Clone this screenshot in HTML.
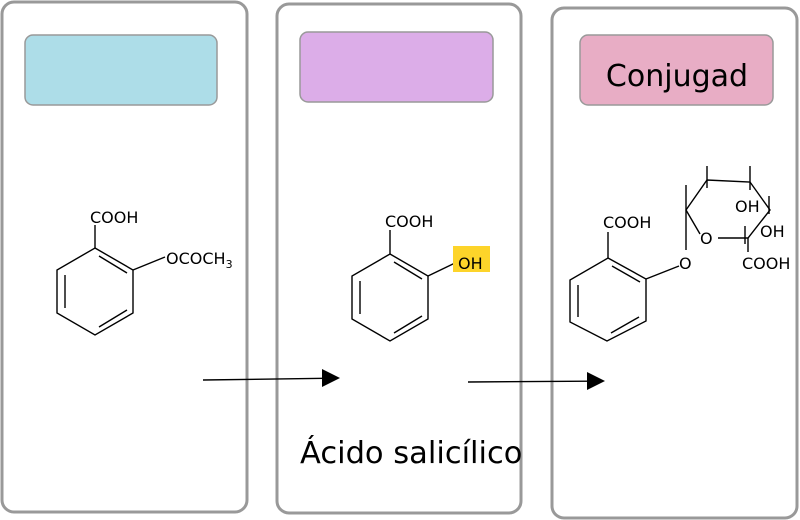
<!DOCTYPE html>
<html><head><style>body{margin:0;background:#fff}svg{display:block}</style></head><body>
<svg width="800" height="520" viewBox="0 0 800 520" xmlns="http://www.w3.org/2000/svg" font-family="DejaVu Sans, Liberation Sans, sans-serif">
<g fill="#fff" stroke="#999" stroke-width="3">
<rect x="2" y="2" width="245" height="510" rx="12"/>
<rect x="277" y="4" width="244" height="509" rx="12"/>
<rect x="552" y="8" width="245" height="510" rx="12"/>
</g>
<g stroke="#999" stroke-width="1.5">
<rect x="25" y="35" width="192" height="70" rx="8" fill="#ADDDE8"/>
<rect x="300" y="32" width="193" height="70" rx="8" fill="#DCADE8"/>
<rect x="580" y="35" width="193" height="70" rx="8" fill="#E8ADC5"/>
</g>
<text x="677" y="86" font-size="30" text-anchor="middle">Conjugad</text>
<g stroke="#000" stroke-width="1.4" fill="none">
<polygon points="95,248 133,270 133,313 95,335 57,313 57,270"/>
<line x1="65" y1="275" x2="65" y2="308"/><line x1="99" y1="256" x2="127" y2="273"/><line x1="99" y1="327" x2="127" y2="310"/>
<line x1="95" y1="248" x2="95" y2="225"/><line x1="133" y1="270" x2="165" y2="257"/>
<polygon points="390,254 428,276 428,319 390,341 352,319 352,276"/>
<line x1="360" y1="281" x2="360" y2="314"/><line x1="394" y1="262" x2="422" y2="279"/><line x1="394" y1="333" x2="422" y2="316"/>
<line x1="390" y1="254" x2="390" y2="230"/><line x1="428" y1="276" x2="455" y2="263"/>
<polygon points="608,258 646,279 646,321 607,341 570,322 570,280"/>
<line x1="578" y1="285" x2="578" y2="317"/><line x1="612" y1="266" x2="640" y2="282"/><line x1="611" y1="333" x2="639" y2="317"/>
<line x1="608" y1="258" x2="608" y2="232"/><line x1="646" y1="279" x2="679" y2="266"/>
<polyline points="700,234 686,210 707,180 750,182 770,210 748,238 718,238"/>
<line x1="686" y1="185" x2="686" y2="250"/>
<line x1="707" y1="166" x2="707" y2="188"/><line x1="750" y1="166" x2="750" y2="190"/>
<line x1="769" y1="196" x2="769" y2="214"/><line x1="745" y1="226" x2="745" y2="244"/>
<line x1="748" y1="238" x2="748" y2="252"/>
<line x1="203" y1="380" x2="324" y2="378.3"/><line x1="468" y1="382" x2="589" y2="381.2"/>
</g>
<polygon points="322,369 340,378 322,387" fill="#000"/>
<polygon points="587,372 605,381 587,390" fill="#000"/>
<rect x="453" y="246" width="37" height="26" fill="#FDD42A"/>
<g font-size="16" fill="#000">
<text x="90" y="223">COOH</text>
<text x="166" y="264">OCOCH<tspan font-size="11" dy="4">3</tspan></text>
<text x="385" y="227">COOH</text>
<text x="458" y="269">OH</text>
<text x="603" y="228">COOH</text>
<text x="679" y="269">O</text>
<text x="700" y="244">O</text>
<text x="735" y="212">OH</text>
<text x="760" y="237">OH</text>
<text x="742" y="269">COOH</text>
</g>
<text x="300" y="463" font-size="30.5">Ácido salicílico</text>
</svg>
</body></html>
